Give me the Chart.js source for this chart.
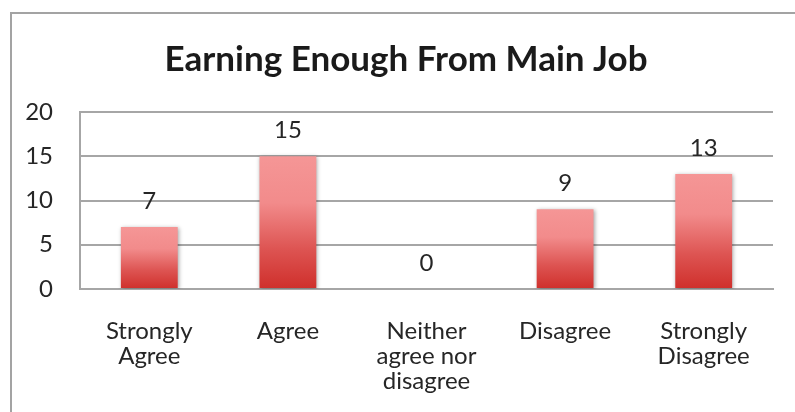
<!DOCTYPE html>
<html>
<head>
<meta charset="utf-8">
<script src="https://cdn.jsdelivr.net/npm/chart.js@4.4.1/dist/chart.umd.min.js"></script>
<style>
  html, body { margin: 0; padding: 0; background: #fff; overflow: hidden; }
  #frame {
    position: absolute; left: 10px; top: 12px;
    width: 900px; height: 500px;
    border-left: 2px solid #a3a3a3; border-top: 2px solid #a3a3a3;
  }
  #wrap { position: absolute; left: 0; top: 0; width: 812px; height: 412px; }
</style>
</head>
<body>
<div id="frame"></div>
<div id="wrap"><canvas id="chart"></canvas></div>
<script>
// ---- data ----
const categories = [
  ['Strongly', 'Agree'],
  ['Agree'],
  ['Neither', 'agree nor', 'disagree'],
  ['Disagree'],
  ['Strongly', 'Disagree'],
];
const counts = [7, 15, 0, 9, 13];
const yTicks = [0, 5, 10, 15, 20];

const textColor = '#262626';
const gridColor = '#a6a6a6';

// gradient per bar, pink at the top, red at the base
function barFill(ctx) {
  const chart = ctx.chart;
  const y = chart.scales.y;
  if (!chart.chartArea || !y || ctx.dataIndex === undefined) return '#e05a57';
  const top = y.getPixelForValue(ctx.raw);
  const base = y.getPixelForValue(0);
  if (!isFinite(top) || !isFinite(base) || base - top < 1) return '#e05a57';
  const g = chart.ctx.createLinearGradient(0, top, 0, base);
  g.addColorStop(0, '#f59696');
  g.addColorStop(0.35, '#f28b8b');
  g.addColorStop(0.7, '#dd5452');
  g.addColorStop(1, '#cf2f2b');
  return g;
}

// soft shadow under the bars
const barShadow = {
  id: 'barShadow',
  beforeDatasetsDraw(chart) {
    const c = chart.ctx;
    c.save();
    c.shadowColor = 'rgba(0,0,0,0.35)';
    c.shadowBlur = 4;
    c.shadowOffsetX = 1;
    c.shadowOffsetY = 1;
  },
  afterDatasetsDraw(chart) {
    chart.ctx.restore();
  },
};

// value labels above each bar
const valueLabels = {
  id: 'valueLabels',
  afterDatasetsDraw(chart) {
    const c = chart.ctx;
    const meta = chart.getDatasetMeta(0);
    c.save();
    c.font = '24px Lato';
    c.fillStyle = textColor;
    c.textAlign = 'center';
    c.textBaseline = 'middle';
    meta.data.forEach((bar, i) => {
      c.fillText(String(counts[i]), bar.x, bar.y - 26);
    });
    c.restore();
  },
};

// title box starts at the frame's inner edge, so it centres like the original
const titleShift = {
  id: 'titleShift',
  afterLayout(chart) {
    if (chart.titleBlock) chart.titleBlock.left = 39;
  },
};

new Chart(document.getElementById('chart'), {
  type: 'bar',
  data: {
    labels: categories,
    datasets: [{
      data: counts,
      backgroundColor: barFill,
      borderWidth: 0,
      barPercentage: 0.41,
      categoryPercentage: 1,
    }],
  },
  options: {
    responsive: true,
    maintainAspectRatio: false,
    animation: false,
    events: [],
    layout: { padding: { left: 0, right: 39, top: 0, bottom: 0 } },
    plugins: {
      legend: { display: false },
      tooltip: { enabled: false },
      title: {
        display: true,
        text: 'Earning Enough From Main Job',
        color: '#1a1a1a',
        font: { family: 'Lato', size: 35, weight: 'bold', lineHeight: 1.2 },
        padding: { top: 39, bottom: 31 },
      },
    },
    scales: {
      x: {
        grid: { display: false, drawTicks: false },
        border: { display: true, color: gridColor, width: 2 },
        ticks: {
          color: textColor,
          font: { family: 'Lato', size: 24, lineHeight: 1.04 },
          padding: 30,
          maxRotation: 0,
          autoSkip: false,
        },
        afterFit(scale) { scale.height = 123; },
      },
      y: {
        min: 0,
        max: 20,
        afterBuildTicks(scale) { scale.ticks = yTicks.map(v => ({ value: v })); },
        grid: { color: gridColor, lineWidth: 2, drawTicks: false },
        border: { display: true, color: gridColor, width: 2 },
        ticks: {
          color: textColor,
          font: { family: 'Lato', size: 24 },
          padding: 27,
        },
        afterFit(scale) { scale.width = 80; },
      },
    },
  },
  plugins: [titleShift, barShadow, valueLabels],
});
</script>
</body>
</html>
